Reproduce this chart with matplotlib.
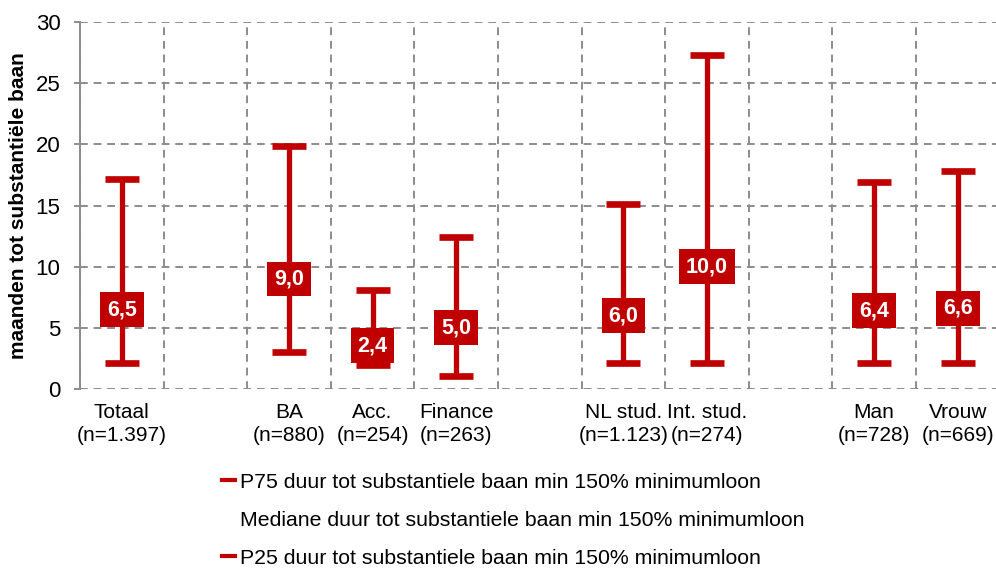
import numpy as np
import matplotlib
matplotlib.use("Agg")
import matplotlib.pyplot as plt
from matplotlib.lines import Line2D

plt.rcParams['font.family'] = ['Liberation Sans', 'DejaVu Sans']

categories = ["Totaal\n(n=1.397)", "", "BA\n(n=880)", "Acc.\n(n=254)", "Finance\n(n=263)", "",
              "NL stud.\n(n=1.123)", "Int. stud.\n(n=274)", "", "Man\n(n=728)", "Vrouw\n(n=669)"]
p75 = [17.2, np.nan, 19.9, 8.1, 12.4, np.nan, 15.1, 27.3, np.nan, 16.9, 17.8]
mediane = [6.5, np.nan, 9.0, 2.4, 5.0, np.nan, 6.0, 10.0, np.nan, 6.4, 6.6]
p25 = [2.1, np.nan, 3.0, 2.0, 1.1, np.nan, 2.1, 2.1, np.nan, 2.1, 2.1]

legend_labels = ["P75 duur tot substantiele baan min 150% minimumloon",
                 "Mediane duur tot substantiele baan min 150% minimumloon",
                 "P25 duur tot substantiele baan min 150% minimumloon"]
ylabel = "maanden tot substantiële baan"

red = "#C00000"
grid_c = "#8C8C8C"

fig = plt.figure(figsize=(9.96, 5.70), dpi=100)
ax = fig.add_axes([0.0803, 0.3175, 0.9233, 0.6439])

x = np.arange(len(categories))
p75a = np.array(p75); meda = np.array(mediane); p25a = np.array(p25)
mask = ~np.isnan(meda)

ax.set_xlim(-0.5, len(categories) - 0.5)
ax.set_ylim(0, 30)
ax.set_yticks(np.arange(0, 31, 5))

# grid
ax.set_xticks(np.arange(-0.5, len(categories) + 0.5, 1), minor=True)
ax.grid(True, which='minor', axis='x', color=grid_c, linestyle=(0, (4, 3)), linewidth=1.4)
ax.grid(True, which='major', axis='y', color=grid_c, linestyle=(0, (4, 3)), linewidth=1.4)
ax.set_axisbelow(True)
for s in ['top', 'right', 'bottom']:
    ax.spines[s].set_visible(False)
ax.spines['left'].set_color(grid_c)
ax.spines['left'].set_linewidth(1.4)
ax.tick_params(axis='y', which='major', length=4, width=1.4, color=grid_c, labelsize=16, pad=10)
ax.tick_params(axis='x', which='both', length=0, labelsize=15, pad=10)
ax.set_xticks(x)
ax.set_xticklabels(categories, linespacing=1.25)

ax.errorbar(x[mask], meda[mask], yerr=[meda[mask] - p25a[mask], p75a[mask] - meda[mask]],
            fmt='none', ecolor=red, elinewidth=3.8, capsize=12, capthick=4.8, zorder=3)

min_gap = 1.55
for xi, m, lo in zip(x[mask], meda[mask], p25a[mask]):
    yl = max(m, lo + min_gap)
    ax.text(xi, yl, f"{m:.1f}".replace('.', ','), ha='center', va='center', color='white',
            fontsize=15.5, fontweight='bold', zorder=4,
            bbox=dict(boxstyle='square,pad=0.32', facecolor=red, edgecolor='none'))

ax.set_ylabel(ylabel, fontsize=15, fontweight='bold')
ax.yaxis.set_label_coords(-0.0565, 0.5)

handles = [Line2D([], [], color=red, lw=3),
           Line2D([], [], color='none', lw=3),
           Line2D([], [], color=red, lw=3)]
fig.legend(handles, legend_labels, loc='upper left', bbox_to_anchor=(0.223, 0.171),
           frameon=False, fontsize=15.3, handlelength=0.6, handletextpad=0.25,
           labelspacing=0.9, borderpad=0, borderaxespad=0)

fig.savefig("out.png", dpi=100)
